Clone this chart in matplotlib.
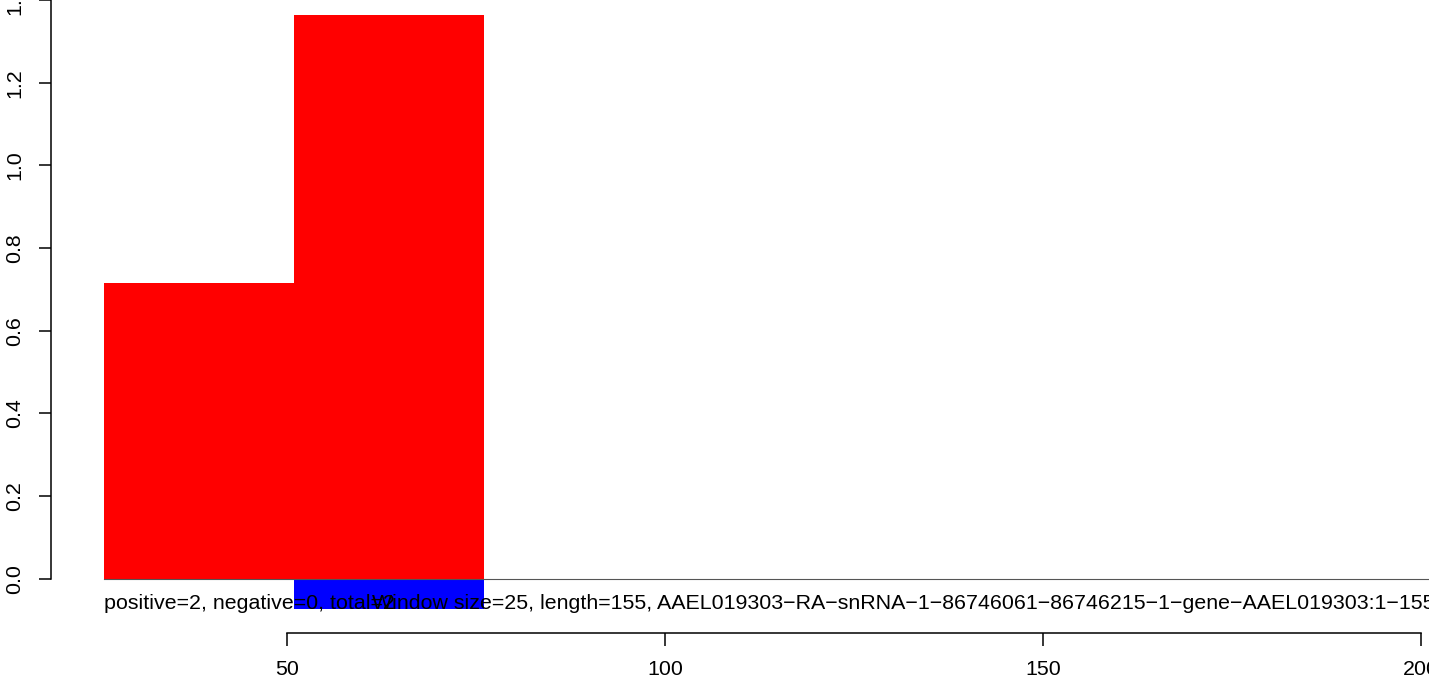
import matplotlib
matplotlib.use('Agg')
import matplotlib.pyplot as plt

plt.rcParams['font.family'] = ['Liberation Sans', 'DejaVu Sans']

# -------------------------- data --------------------------
win_start = [25.8, 50.9]      # window start positions
win_width = 25.1              # window size
pos_vals = [0.716, 1.363]     # positive strand values
neg_vals = [0.0, -0.074]      # negative strand values
y_ticks = [0.0, 0.2, 0.4, 0.6, 0.8, 1.0, 1.2, 1.4]
x_ticks = [50, 100, 150, 200]
info_left = 'positive=2, negative=0, total=2'
info_right = 'Window size=25, length=155, AAEL019303\u2212RA\u2212snRNA\u22121\u221286746061\u221286746215\u22121\u2212gene\u2212AAEL019303:1\u2212155'

# -------------------------- figure --------------------------
W, H = 1429, 680
fig = plt.figure(figsize=(W / 100, H / 100), dpi=100)
ax = fig.add_axes([0, 0, 1, 1])

# pixel -> data mapping
px_per_x = 7.56
x0_px = 287 - 50 * px_per_x
px_per_y = 416.5
y0_px = 577.8


def xd(px):
    return (px - x0_px) / px_per_x


def yd(py):
    return (y0_px - py) / px_per_y


ax.set_xlim(xd(0), xd(W))
ax.set_ylim(yd(H), yd(0))
ax.patch.set_visible(False)

# bars
ax.bar(win_start, pos_vals, width=win_width, align='edge', color='#ff0000', linewidth=0, zorder=2)
ax.bar(win_start, neg_vals, width=win_width, align='edge', color='#0000ff', linewidth=0, zorder=2)
ax.plot([win_start[0], xd(W) + 5], [0, 0], color='#555555', lw=0.8, zorder=3, clip_on=False)

# annotation text
ax.text(xd(104), yd(608), info_left, fontsize=15.4, ha='left', va='baseline', zorder=4)
ax.text(xd(372), yd(608), info_right, fontsize=15.4, ha='left', va='baseline', zorder=4)

# axes in R style
for s in ['top', 'right']:
    ax.spines[s].set_visible(False)
ax.spines['left'].set_position(('data', xd(50.5)))
ax.spines['left'].set_bounds(0, 1.4)
ax.spines['bottom'].set_position(('data', yd(633)))
ax.spines['bottom'].set_bounds(50, 200)
for s in ['left', 'bottom']:
    ax.spines[s].set_linewidth(1.1)
    ax.spines[s].set_color('black')

ax.set_yticks(y_ticks)
ax.set_yticklabels([f'{v:.1f}' for v in y_ticks], rotation=90, va='center')
ax.set_xticks(x_ticks)
ax.set_xticklabels([str(v) for v in x_ticks])
ax.tick_params(axis='both', direction='out', length=9, width=1.1, labelsize=15.4, color='black')
ax.tick_params(axis='y', pad=10)
ax.tick_params(axis='x', pad=10)

fig.savefig('out.png', dpi=100)
